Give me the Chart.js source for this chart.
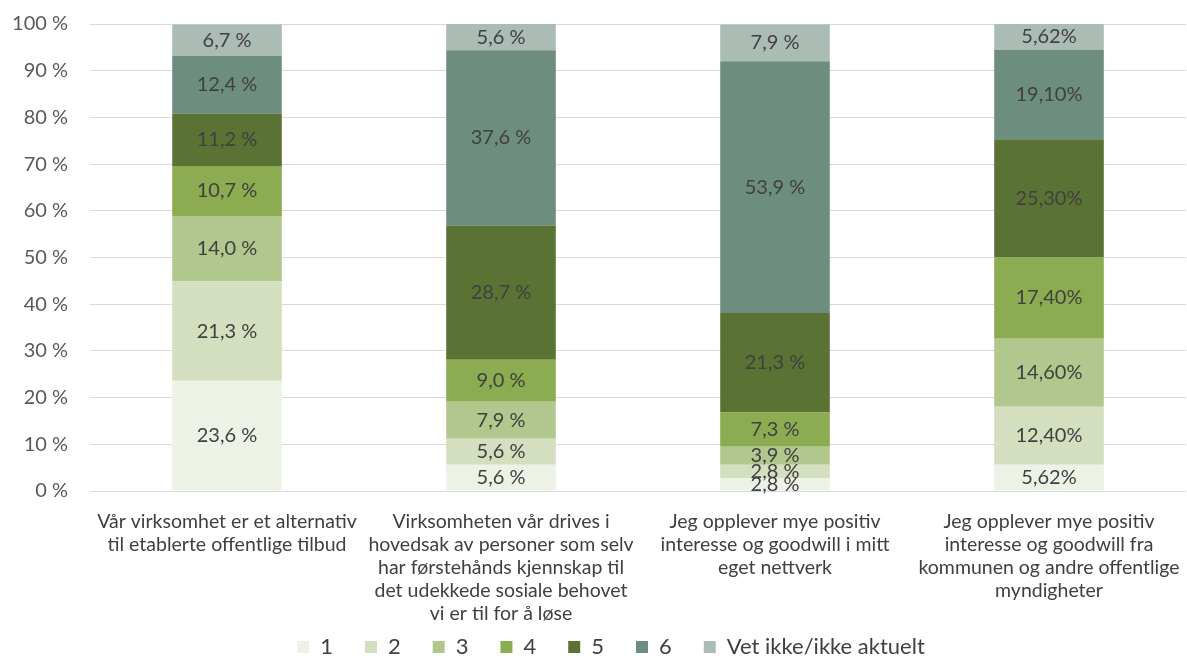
<!DOCTYPE html>
<html>
<head>
<meta charset="utf-8">
<script src="https://cdn.jsdelivr.net/npm/chart.js@4/dist/chart.umd.min.js"></script>
<style>
  html, body { margin: 0; padding: 0; background: #fff; }
</style>
</head>
<body>
<canvas id="chart" width="1187" height="656"></canvas>
<script>
// påstander (kategorier), delt over flere linjer
const categories = [
  ["Vår virksomhet er et alternativ", "til etablerte offentlige tilbud"],
  ["Virksomheten vår drives i", "hovedsak av personer som selv", "har førstehånds kjennskap til", "det udekkede sosiale behovet", "vi er til for å løse"],
  ["Jeg opplever mye positiv", "interesse og goodwill i mitt", "eget nettverk"],
  ["Jeg opplever mye positiv", "interesse og goodwill fra", "kommunen og andre offentlige", "myndigheter"]
];

const seriesNames = ["1", "2", "3", "4", "5", "6", "Vet ikke/ikke aktuelt"];

// andel svar i prosent per påstand
const svar1 = [23.6, 5.6, 2.8, 5.62];
const svar2 = [21.3, 5.6, 2.8, 12.40];
const svar3 = [14.0, 7.9, 3.9, 14.60];
const svar4 = [10.7, 9.0, 7.3, 17.40];
const svar5 = [11.2, 28.7, 21.3, 25.30];
const svar6 = [12.4, 37.6, 53.9, 19.10];
const vetIkke = [6.7, 5.6, 7.9, 5.62];

const yTicks = [0, 10, 20, 30, 40, 50, 60, 70, 80, 90, 100];

// siste påstand er oppgitt med to desimaler og uten mellomrom før %
const labelDecimals = [1, 1, 1, 2];
const labelSuffix = [" %", " %", " %", "%"];

const colors = ["#EDF2E6", "#D3DFBE", "#B2C78D", "#8BAC50", "#5A7233", "#6D8E7E", "#ABBCB4"];

const allSeries = [svar1, svar2, svar3, svar4, svar5, svar6, vetIkke];

const FONT = "Lato";

// verditekst midt i hvert segment
const segmentLabels = {
  id: "segmentLabels",
  afterDatasetsDraw(chart) {
    const ctx = chart.ctx;
    ctx.save();
    ctx.font = "20px " + FONT;
    ctx.fillStyle = "#404040";
    ctx.textAlign = "center";
    ctx.textBaseline = "middle";
    chart.data.datasets.forEach((ds, i) => {
      chart.getDatasetMeta(i).data.forEach((bar, j) => {
        const txt = ds.data[j].toFixed(labelDecimals[j]).replace(".", ",") + labelSuffix[j];
        ctx.fillText(txt, bar.x, (bar.y + bar.base) / 2);
      });
    });
    ctx.restore();
  }
};

// forklaringen trekkes litt opp og mot høyre
const legendShift = {
  id: "legendShift",
  afterLayout(chart) {
    const lg = chart.legend;
    lg.left += 18;
    lg.right += 18;
    lg.top -= 24;
    lg.bottom -= 24;
  }
};

new Chart(document.getElementById("chart"), {
  type: "bar",
  data: {
    labels: categories,
    datasets: allSeries.map((data, i) => ({
      label: seriesNames[i],
      data: data,
      backgroundColor: colors[i],
      borderWidth: 0,
      categoryPercentage: 1,
      barPercentage: 0.4
    }))
  },
  options: {
    responsive: false,
    devicePixelRatio: 1,
    animation: false,
    layout: { padding: { top: 24, left: 0, right: 1, bottom: -36 } },
    plugins: {
      tooltip: { enabled: false },
      legend: {
        position: "bottom",
        labels: {
          boxWidth: 12,
          boxHeight: 12,
          padding: 32,
          color: "#404040",
          font: { family: FONT, size: 22 }
        }
      }
    },
    scales: {
      x: {
        stacked: true,
        grid: { display: false, drawTicks: true, tickLength: 17 },
        border: { display: false },
        ticks: {
          autoSkip: false,
          maxRotation: 0,
          padding: 2,
          color: "#404040",
          font: { family: FONT, size: 19.5, lineHeight: "23px" }
        },
        afterFit(scale) { scale.height = 137; }
      },
      y: {
        stacked: true,
        min: 0,
        max: 100,
        afterBuildTicks(scale) { scale.ticks = yTicks.map(v => ({ value: v })); },
        grid: { color: "#D9D9D9", lineWidth: 1, drawTicks: true, tickLength: 20, tickColor: "rgba(0,0,0,0)" },
        border: { display: false },
        ticks: {
          padding: 2,
          color: "#595959",
          font: { family: FONT, size: 20 },
          callback: v => v + " %"
        },
        afterFit(scale) { scale.width = 90; }
      }
    }
  },
  plugins: [segmentLabels, legendShift]
});
</script>
</body>
</html>
